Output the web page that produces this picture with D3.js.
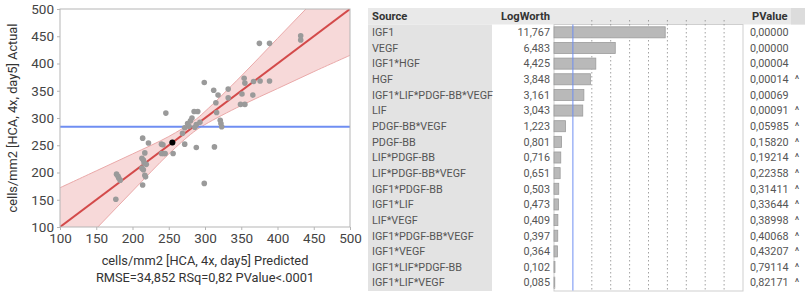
<!DOCTYPE html>
<html>
<head>
<meta charset="utf-8">
<script src="https://cdn.jsdelivr.net/npm/d3@7"></script>
<style>
  body { margin: 0; background: #fff; }
  svg { display: block; font-family: Roboto, "Open Sans", sans-serif; }
</style>
</head>
<body>
<div class="chart-container"></div>
<script>
// scatter: predicted vs actual
const predicted = [177, 178, 181, 183, 180, 214, 213, 215, 216, 219, 217, 218, 213, 215, 214, 217, 222, 240, 243, 245, 256,
  240, 242, 255, 272, 288, 313, 246, 269, 272, 276, 280, 282, 285, 290, 288, 293, 278, 286, 299, 315, 316, 312, 318,
  321, 322, 323, 332, 332, 349, 355, 351, 366, 354, 355, 367, 376, 389, 375, 389, 432, 432, 299];
const actual = [151, 197, 190, 186, 193, 263, 226, 223, 218, 215, 195, 192, 208, 205, 177, 236, 254, 235, 235, 235, 235,
  252, 251, 255, 252, 246, 247, 309, 272, 282, 290, 295, 300, 312, 312, 288, 292, 285, 283, 365, 328, 310, 351, 342,
  296, 290, 284, 353, 337, 325, 325, 344, 342, 373, 364, 367, 368, 368, 437, 437, 451, 443, 180];
const highlight = {x: 255, y: 255};
const meanActual = 284;

// confidence band
const bandX = [100, 150, 200, 250, 284, 300, 350, 400, 450, 500];
const bandLower = [28, 97, 166, 234, 274, 288, 323, 354, 385, 415];
const bandUpper = [172, 203, 234, 266, 294, 312, 377, 446, 515, 585];

const xTicks = [100, 150, 200, 250, 300, 350, 400, 450, 500];
const yTicks = [100, 150, 200, 250, 300, 350, 400, 450, 500];

// effect summary table
const sources = ['IGF1', 'VEGF', 'IGF1*HGF', 'HGF', 'IGF1*LIF*PDGF-BB*VEGF', 'LIF', 'PDGF-BB*VEGF', 'PDGF-BB',
  'LIF*PDGF-BB', 'LIF*PDGF-BB*VEGF', 'IGF1*PDGF-BB', 'IGF1*LIF', 'LIF*VEGF', 'IGF1*PDGF-BB*VEGF', 'IGF1*VEGF',
  'IGF1*LIF*PDGF-BB', 'IGF1*LIF*VEGF'];
const logWorth = [11.767, 6.483, 4.425, 3.848, 3.161, 3.043, 1.223, 0.801, 0.716, 0.651, 0.503, 0.473, 0.409, 0.397,
  0.364, 0.102, 0.085];
const pValues = ['0,00000', '0,00000', '0,00004', '0,00014', '0,00069', '0,00091', '0,05985', '0,15820', '0,19214',
  '0,22358', '0,31411', '0,33644', '0,38998', '0,40068', '0,43207', '0,79114', '0,82171'];
const carets = [false, false, false, true, false, true, true, true, true, true, true, true, true, true, true, true, true];
const gridTicks = [4, 6, 8, 10, 12, 14, 16, 18];
const refLine = 2;

const width = 809, height = 294;
const svg = d3.select('.chart-container').append('svg')
  .attr('width', width)
  .attr('height', height);

// ---------- scatter ----------
const x = d3.scaleLinear().domain([100, 500]).range([60, 350]);
const y = d3.scaleLinear().domain([100, 500]).range([227, 9]);

svg.append('clipPath').attr('id', 'plotclip')
  .append('rect').attr('x', 60).attr('y', 9).attr('width', 290).attr('height', 218);

const plot = svg.append('g').attr('clip-path', 'url(#plotclip)');

const band = bandX.map((v, i) => ({x: v, lo: bandLower[i], hi: bandUpper[i]}));
plot.append('path')
  .datum(band)
  .attr('fill', '#f3c9c9')
  .attr('fill-opacity', 0.7)
  .attr('d', d3.area().x(d => x(d.x)).y0(d => y(d.lo)).y1(d => y(d.hi)).curve(d3.curveCatmullRom));
['lo', 'hi'].forEach(k => {
  plot.append('path')
    .datum(band)
    .attr('fill', 'none')
    .attr('stroke', '#eaa9a9')
    .attr('stroke-width', 1)
    .attr('d', d3.line().x(d => x(d.x)).y(d => y(d[k])).curve(d3.curveCatmullRom));
});

plot.append('line')
  .attr('x1', x(100)).attr('y1', y(meanActual))
  .attr('x2', x(500)).attr('y2', y(meanActual))
  .attr('stroke', '#6f8ef2').attr('stroke-width', 2);

plot.append('line')
  .attr('x1', x(100)).attr('y1', y(100))
  .attr('x2', x(500)).attr('y2', y(500))
  .attr('stroke', '#d34a4a').attr('stroke-width', 2);

plot.selectAll('.pt')
  .data(predicted.map((p, i) => ({p: p, a: actual[i]})))
  .enter().append('circle')
  .attr('cx', d => x(d.p))
  .attr('cy', d => y(d.a))
  .attr('r', 2.8)
  .attr('fill', '#9a9a9a');

plot.append('circle')
  .attr('cx', x(highlight.x)).attr('cy', y(highlight.y))
  .attr('r', 3).attr('fill', '#000');

svg.append('rect')
  .attr('x', 60).attr('y', 9).attr('width', 290).attr('height', 218)
  .attr('fill', 'none').attr('stroke', '#b5b5b5');

const xAxis = svg.append('g')
  .attr('transform', 'translate(0,227)')
  .call(d3.axisBottom(x).tickValues(xTicks).tickSize(3).tickPadding(3));
const yAxis = svg.append('g')
  .attr('transform', 'translate(60,0)')
  .call(d3.axisLeft(y).tickValues(yTicks).tickSize(3).tickPadding(3));
[xAxis, yAxis].forEach(g => {
  g.select('.domain').remove();
  g.selectAll('line').attr('stroke', '#b5b5b5');
  g.selectAll('text').attr('fill', '#444').attr('font-size', 13.5)
    .attr('font-family', 'Roboto, sans-serif');
});

svg.append('text')
  .attr('x', 205).attr('y', 265)
  .attr('text-anchor', 'middle').attr('font-size', 12.8).attr('fill', '#333')
  .text('cells/mm2 [HCA, 4x, day5] Predicted');
svg.append('text')
  .attr('x', 205).attr('y', 282)
  .attr('text-anchor', 'middle').attr('font-size', 12.8).attr('fill', '#333')
  .text('RMSE=34,852 RSq=0,82 PValue<.0001');
svg.append('text')
  .attr('transform', 'translate(17,118) rotate(-90)')
  .attr('text-anchor', 'middle').attr('font-size', 12.8).attr('fill', '#333')
  .text('cells/mm2 [HCA, 4x, day5] Actual');

// ---------- table ----------
const row = d3.scaleBand().domain(sources).range([24.5, 290.5]).padding(0);
const bx = d3.scaleLinear().domain([0, 20]).range([554, 743]);
const tfont = 10.8;

const table = svg.append('g');

// header
table.append('rect').attr('x', 368).attr('y', 8).attr('width', 437).attr('height', 16.5).attr('fill', '#e9e9e9');
table.append('rect').attr('x', 791).attr('y', 8).attr('width', 14).attr('height', 16.5).attr('fill', '#dcdcdc');
const hdr = [
  {t: 'Source', x: 372, a: 'start'},
  {t: 'LogWorth', x: 550, a: 'end'},
  {t: 'PValue', x: 752, a: 'start'}
];
table.selectAll('.hdr').data(hdr).enter().append('text')
  .attr('x', d => d.x).attr('y', 16.5).attr('dy', '0.35em')
  .attr('text-anchor', d => d.a)
  .attr('font-size', tfont + 0.4).attr('font-weight', 'bold').attr('fill', '#333')
  .text(d => d.t);

// source column background
table.append('rect').attr('x', 368).attr('y', 24.5).attr('width', 124).attr('height', 266.5).attr('fill', '#e3e3e3');

// bar column frame
table.append('rect').attr('x', bx(0)).attr('y', 24.5).attr('width', bx(20) - bx(0)).attr('height', 266.5)
  .attr('fill', '#fff').attr('stroke', '#cfcfcf');

table.selectAll('.grid').data(gridTicks).enter().append('line')
  .attr('x1', d => bx(d)).attr('x2', d => bx(d))
  .attr('y1', 20).attr('y2', 290.5)
  .attr('stroke', '#8a8a8a').attr('stroke-width', 0.8).attr('stroke-dasharray', '1.5,2.5');

table.selectAll('.bar').data(sources).enter().append('rect')
  .attr('x', bx(0))
  .attr('y', d => row(d) + 2.3)
  .attr('width', (d, i) => bx(logWorth[i]) - bx(0))
  .attr('height', row.bandwidth() - 4.6)
  .attr('fill', '#b9b9b9').attr('stroke', '#9c9c9c').attr('stroke-width', 0.8);

table.append('line')
  .attr('x1', bx(refLine)).attr('x2', bx(refLine))
  .attr('y1', 24.5).attr('y2', 290.5)
  .attr('stroke', '#6f8ef2').attr('stroke-width', 1);

const cell = (vals, xpos, anchor) => table.selectAll(null).data(vals).enter().append('text')
  .attr('x', xpos).attr('y', (d, i) => row(sources[i]) + row.bandwidth() / 2).attr('dy', '0.35em')
  .attr('text-anchor', anchor).attr('font-size', tfont).attr('fill', '#555')
  .text(d => d);

cell(sources, 372, 'start');
cell(logWorth.map(v => d3.format('.3f')(v).replace('.', ',')), 550, 'end');
cell(pValues, 750, 'start');
cell(carets.map(c => c ? '^' : ''), 797, 'middle');
</script>
</body>
</html>
